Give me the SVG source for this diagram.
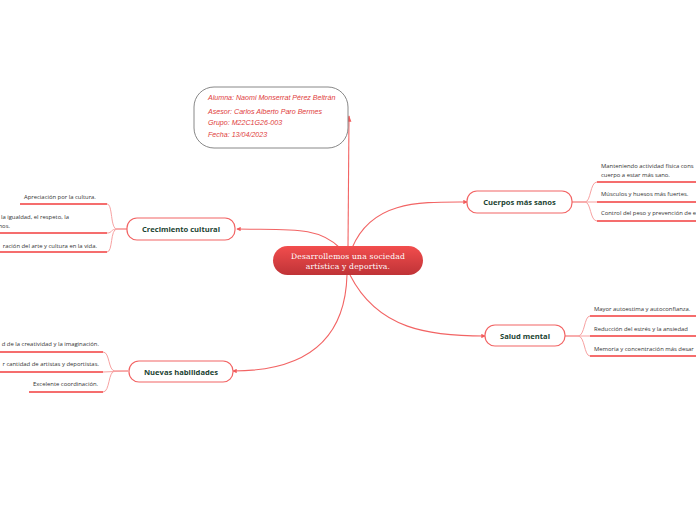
<svg xmlns="http://www.w3.org/2000/svg" width="696" height="520" viewBox="0 0 696 520">
<defs>
<linearGradient id="cg" x1="0" y1="0" x2="0" y2="1">
<stop offset="0" stop-color="#f24d4d"/>
<stop offset="1" stop-color="#bf3337"/>
</linearGradient>
<marker id="dot" viewBox="0 0 6 6" refX="5" refY="3" markerWidth="4" markerHeight="4" orient="auto">
<path d="M0,0 L6,3 L0,6 z" fill="#f25b5b"/>
</marker>
<marker id="arr" viewBox="0 0 8 8" refX="7" refY="4" markerWidth="6" markerHeight="6" orient="auto">
<path d="M0,1 L8,4 L0,7 z" fill="#f25b5b"/>
</marker>
<style>
.main{fill:none;stroke:#f26464;stroke-width:1.1}
.sub{fill:none;stroke:#f7a1a1;stroke-width:1}
.ul{fill:none;stroke:#f23c3c;stroke-width:1.6}
.node{fill:#fff;stroke:#f26464;stroke-width:1.2}
.nt{font-family:"Open Sans","Noto Sans",sans-serif;font-weight:bold;font-size:7.6px;fill:#1b4332;text-anchor:middle}
.lt{font-family:"Open Sans","Noto Sans",sans-serif;font-size:5.9px;fill:#333}
.it{font-family:"Liberation Sans",sans-serif;font-style:italic;font-size:7.1px;fill:#e03c3c}
.ct{font-family:"DejaVu Serif",serif;font-size:7.6px;fill:#fff;text-anchor:middle}
</style>
</defs>
<rect width="696" height="520" fill="#fff"/>
<g id="connectors">
<path class="main" d="M348,247 L349,116" marker-end="url(#arr)"/>
<path class="main" d="M340,248 C318,226 290,230 237,229" marker-end="url(#dot)"/>
<path class="main" d="M352,248 C372,200 420,202 467,202" marker-end="url(#dot)"/>
<path class="main" d="M347,275 C345,345 300,371 233,371" marker-end="url(#dot)"/>
<path class="main" d="M350,275 C378,330 430,336 485,336" marker-end="url(#dot)"/>
<path class="sub" d="M127,229 L117,229 C110,229 113,204 107,204"/>
<path class="sub" d="M127,229 L117,229 C110,229 113,233 107,233"/>
<path class="sub" d="M127,229 L117,229 C110,229 113,252 107,252"/>
<path class="sub" d="M128,371 L115,371 C108,371 110,352 103,352"/>
<path class="sub" d="M128,371 L103,372"/>
<path class="sub" d="M128,371 L115,371 C108,371 110,392 103,392"/>
<path class="sub" d="M572,202 L585,202 C591,202 590,182 597,182"/>
<path class="sub" d="M572,202 L597,202"/>
<path class="sub" d="M572,202 L585,202 C591,202 590,221 597,221"/>
<path class="sub" d="M565,336 L578,336 C585,336 584,316 590,316"/>
<path class="sub" d="M565,336 L590,336"/>
<path class="sub" d="M565,336 L578,336 C585,336 584,356 590,356"/>
</g>
<g id="info">
<rect x="194" y="87" width="154" height="61" rx="20" fill="#fff" stroke="#888" stroke-width="1"/>
<text class="it" x="208" y="100">Alumna: Naomi Monserrat Pérez Beltrán</text>
<text class="it" x="208" y="113.5">Asesor: Carlos Alberto Paro Bermes</text>
<text class="it" x="208" y="125">Grupo: M22C1G26-003</text>
<text class="it" x="208" y="136.5">Fecha: 13/04/2023</text>
</g>
<g id="central">
<rect x="273" y="246" width="150" height="29" rx="14.5" fill="url(#cg)"/>
<text class="ct" x="348" y="258.5" letter-spacing="0.2">Desarrollemos una sociedad</text>
<text class="ct" x="348" y="268.5" letter-spacing="0.2">artística y deportiva.</text>
</g>
<g id="crecimiento">
<rect class="node" x="127" y="218" width="108" height="22" rx="10"/>
<text class="nt" x="181" y="232">Crecimiento cultural</text>
</g>
<g id="crec-leaf1">
<line class="ul" x1="20" y1="204" x2="107" y2="204"/>
<text class="lt" x="24" y="199">Apreciación por la cultura.</text>
</g>
<g id="crec-leaf2">
<line class="ul" x1="0" y1="233" x2="107" y2="233"/>
<text class="lt" x="69" y="219" text-anchor="end">la igualdad, el respeto, la</text>
<text class="lt" x="10" y="228" text-anchor="end">nos.</text>
</g>
<g id="crec-leaf3">
<line class="ul" x1="0" y1="252" x2="107" y2="252"/>
<text class="lt" x="97" y="247.5" text-anchor="end">ración del arte y cultura en la vida.</text>
</g>
<g id="nuevas">
<rect class="node" x="129" y="361" width="104" height="21" rx="10"/>
<text class="nt" x="181" y="374.5">Nuevas habilidades</text>
</g>
<g id="nuev-leaf1">
<line class="ul" x1="0" y1="352" x2="103" y2="352"/>
<text class="lt" x="99" y="346" text-anchor="end">d de la creatividad y la imaginación.</text>
</g>
<g id="nuev-leaf2">
<line class="ul" x1="0" y1="372" x2="103" y2="372"/>
<text class="lt" x="99" y="366" text-anchor="end">r cantidad de artistas y deportistas.</text>
</g>
<g id="nuev-leaf3">
<line class="ul" x1="29" y1="392" x2="103" y2="392"/>
<text class="lt" x="33" y="385.5">Excelente coordinación.</text>
</g>
<g id="cuerpos">
<rect class="node" x="467" y="191" width="105" height="22" rx="10"/>
<text class="nt" x="519.5" y="205">Cuerpos más sanos</text>
</g>
<g id="cuer-leaf1">
<line class="ul" x1="597" y1="182" x2="696" y2="182"/>
<text class="lt" x="601" y="168">Manteniendo actividad física cons</text>
<text class="lt" x="601" y="176.5">cuerpo a estar más sano.</text>
</g>
<g id="cuer-leaf2">
<line class="ul" x1="597" y1="202" x2="696" y2="202"/>
<text class="lt" x="601" y="195.5">Músculos y huesos más fuertes.</text>
</g>
<g id="cuer-leaf3">
<line class="ul" x1="597" y1="221" x2="696" y2="221"/>
<text class="lt" x="601" y="215">Control del peso y prevención de e</text>
</g>
<g id="salud">
<rect class="node" x="485" y="325" width="80" height="21" rx="10"/>
<text class="nt" x="525" y="338.5">Salud mental</text>
</g>
<g id="salud-leaf1">
<line class="ul" x1="590" y1="316" x2="696" y2="316"/>
<text class="lt" x="594" y="311">Mayor autoestima y autoconfianza.</text>
</g>
<g id="salud-leaf2">
<line class="ul" x1="590" y1="336" x2="696" y2="336"/>
<text class="lt" x="594" y="330.5">Reducción del estrés y la ansiedad</text>
</g>
<g id="salud-leaf3">
<line class="ul" x1="590" y1="356" x2="696" y2="356"/>
<text class="lt" x="594" y="350.5">Memoria y concentración más desar</text>
</g>
</svg>
